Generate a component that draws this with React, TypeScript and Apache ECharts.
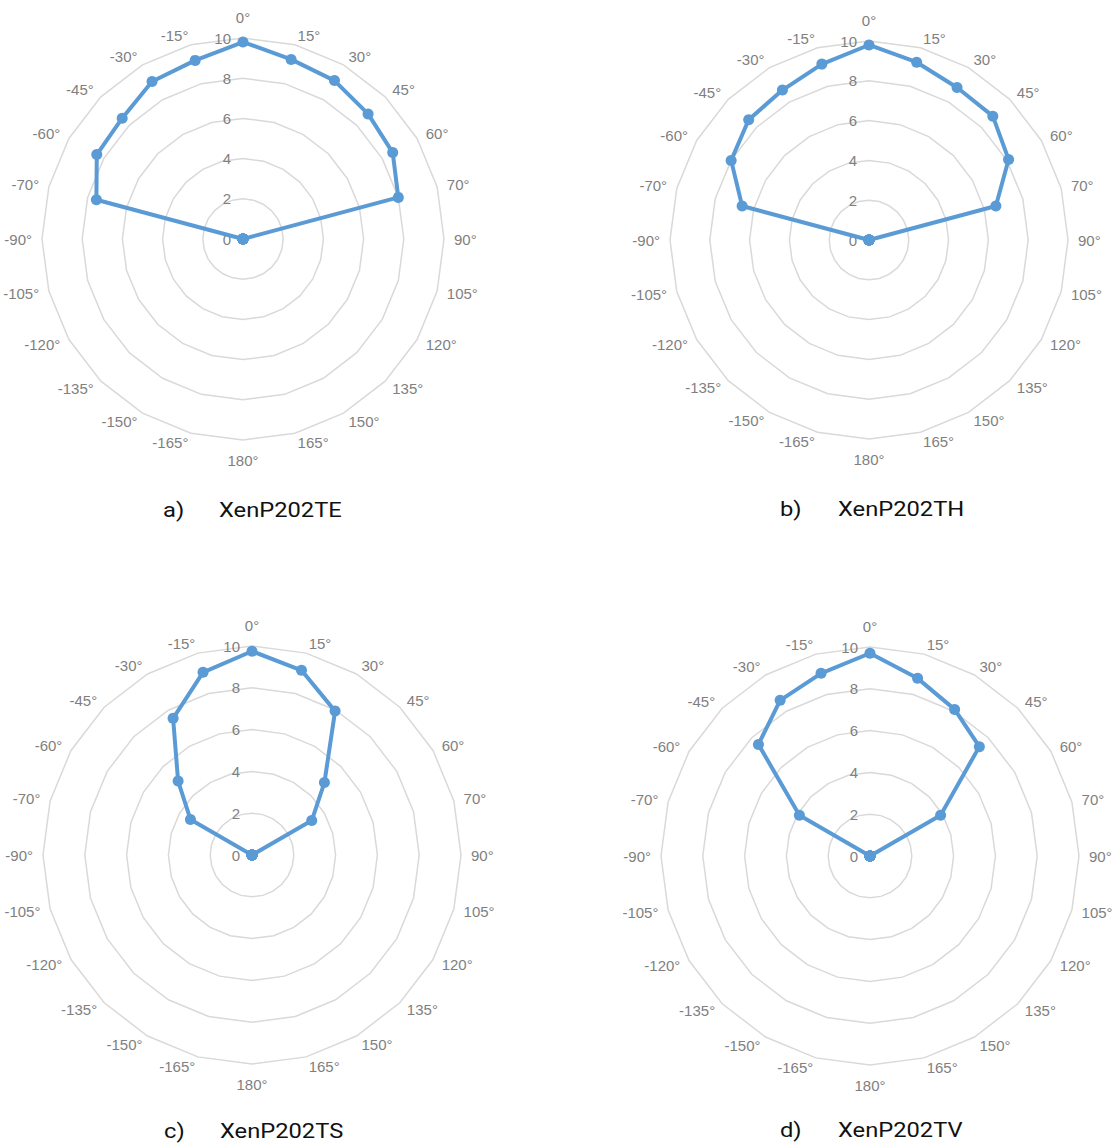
import React, { useEffect, useRef } from "react";
import * as echarts from "echarts";

// Categories listed clockwise starting from the top (0°)
const CATEGORIES = [
  "0°", "15°", "30°", "45°", "60°", "70°", "90°", "105°", "120°", "135°", "150°", "165°",
  "180°", "-165°", "-150°", "-135°", "-120°", "-105°", "-90°", "-70°", "-60°", "-45°", "-30°", "-15°",
];

// Values in the same (clockwise) order as CATEGORIES
const VALUES_TE = [9.8, 9.25, 9.1, 8.8, 8.6, 8.0, 0, 0, 0, 0, 0, 0, 0, 0, 0, 0, 0, 0, 0, 7.55, 8.4, 8.5, 9.05, 9.2];
const VALUES_TH = [9.8, 9.25, 8.85, 8.8, 8.1, 6.6, 0, 0, 0, 0, 0, 0, 0, 0, 0, 0, 0, 0, 0, 6.6, 8.0, 8.55, 8.7, 9.15];
const VALUES_TS = [9.75, 9.15, 7.95, 4.9, 3.3, 0, 0, 0, 0, 0, 0, 0, 0, 0, 0, 0, 0, 0, 0, 0, 3.4, 5.0, 7.55, 9.05];
const VALUES_TV = [9.7, 8.8, 8.1, 7.4, 3.9, 0, 0, 0, 0, 0, 0, 0, 0, 0, 0, 0, 0, 0, 0, 0, 3.9, 7.55, 8.6, 9.05];

const AXIS_MIN = 0;
const AXIS_MAX = 10;
const SPLITS = 5;

const LETTERS = ["a)", "b)", "c)", "d)"];
const NAMES = ["XenP202TE", "XenP202TH", "XenP202TS", "XenP202TV"];
const VALUES = [VALUES_TE, VALUES_TH, VALUES_TS, VALUES_TV];

// Layout (positions / sizes)
const LAYOUT = [
  { center: [243, 239], radius: 201, letterX: 163, nameX: 219, titleY: 510 },
  { center: [869, 240], radius: 199, letterX: 780, nameX: 838, titleY: 509 },
  { center: [252, 855], radius: 209, letterX: 164, nameX: 220, titleY: 1131 },
  { center: [870, 856], radius: 209, letterX: 780, nameX: 838, titleY: 1130 },
];

const BLUE = "#5b9bd5";
const GRAY_TEXT = "#7f7f7f";
const GRID = "#d9d9d9";
const LABEL_FONT = "Liberation Sans";

// ECharts radar goes counter-clockwise; reorder clockwise lists
function ccw<T>(arr: T[]): T[] {
  return [arr[0], ...arr.slice(1).reverse()];
}

export default function App() {
  const ref = useRef<HTMLDivElement>(null);

  useEffect(() => {
    if (!ref.current) return;
    const chart = echarts.init(ref.current, undefined, { renderer: "svg" });

    const radars = LAYOUT.map((l) => ({
      center: l.center,
      radius: l.radius,
      startAngle: 90,
      shape: "polygon",
      splitNumber: SPLITS,
      nameGap: 10,
      axisName: { color: GRAY_TEXT, fontSize: 15, fontFamily: LABEL_FONT },
      axisLine: { show: false },
      axisTick: { show: false },
      axisLabel: { show: false },
      splitLine: { lineStyle: { color: GRID, width: 1.5 } },
      splitArea: { show: false },
      indicator: ccw(CATEGORIES).map((name, i) => {
        const base: any = { name, min: AXIS_MIN, max: AXIS_MAX };
        if (i === 0 || i === 12) base.nameGap = 13;
        if (i === 0) {
          base.axisLabel = {
            show: true,
            color: GRAY_TEXT,
            fontSize: 15,
            fontFamily: LABEL_FONT,
            margin: 12,
          };
        }
        return base;
      }),
    }));

    const series = VALUES.map((vals, i) => ({
      type: "radar",
      radarIndex: i,
      symbol: "circle",
      symbolSize: 11,
      lineStyle: { color: BLUE, width: 4 },
      itemStyle: { color: BLUE },
      z: 3,
      data: [{ name: NAMES[i], value: ccw(vals) }],
    }));

    const graphic: any[] = [];
    LAYOUT.forEach((l, i) => {
      graphic.push({
        type: "text",
        x: l.letterX,
        y: l.titleY,
        scaleX: 1.13,
        style: {
          text: LETTERS[i],
          fill: "#111",
          fontSize: 21,
          fontFamily: "Roboto",
          verticalAlign: "middle",
          align: "left",
        },
      });
      graphic.push({
        type: "text",
        x: l.nameX,
        y: l.titleY,
        scaleX: 1.13,
        style: {
          text: NAMES[i],
          fill: "#111",
          fontSize: 21,
          fontFamily: "Roboto",
          verticalAlign: "middle",
          align: "left",
        },
      });
    });

    chart.setOption({
      animation: false,
      backgroundColor: "#ffffff",
      radar: radars,
      series,
      graphic,
    });

    return () => chart.dispose();
  }, []);

  return (
    <div
      ref={ref}
      style={{ position: "absolute", left: 0, top: 0, width: 1118, height: 1146 }}
    />
  );
}
